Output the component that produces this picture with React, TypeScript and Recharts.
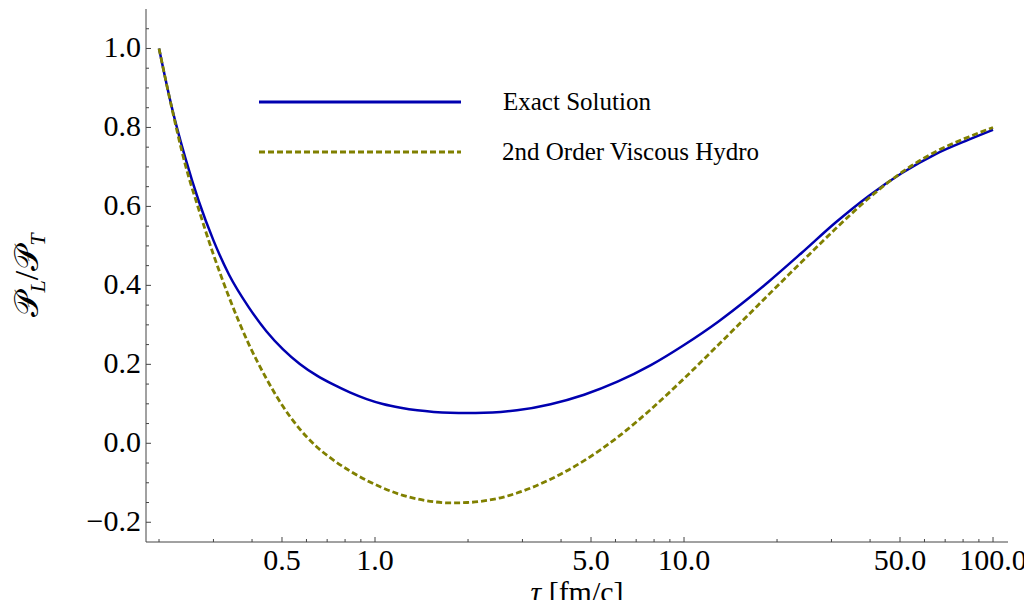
import { LineChart, Line, XAxis, YAxis, Legend } from 'recharts';

const tau = [
  0.2, 0.22, 0.243, 0.269, 0.3, 0.337, 0.39, 0.445, 0.504, 0.571, 0.647, 0.732, 0.829, 0.94, 1.06, 1.21,
  1.37, 1.55, 1.75, 1.99, 2.25, 2.55, 2.88, 3.7, 4.75, 6.09, 7.81, 10, 12.9, 16.1, 18.7, 24, 30.8, 39.5,
  50.6, 65, 83.4, 100,
];

const exactSolution = [
  1.0, 0.851, 0.724, 0.613, 0.514, 0.427, 0.345, 0.284, 0.238, 0.201, 0.172, 0.149, 0.129, 0.112,
  0.0995, 0.09, 0.0835, 0.0795, 0.0775, 0.077, 0.0775, 0.0795, 0.0835, 0.099, 0.123, 0.156, 0.198,
  0.249, 0.308, 0.366, 0.408, 0.482, 0.558, 0.626, 0.684, 0.732, 0.769, 0.794,
];

const viscousHydro = [
  1.0, 0.849, 0.707, 0.592, 0.478, 0.37, 0.252, 0.164, 0.093, 0.036, -0.0085, -0.042, -0.07, -0.094,
  -0.113, -0.13, -0.141, -0.148, -0.151, -0.15, -0.146, -0.138, -0.126, -0.091, -0.044, 0.015, 0.086,
  0.164, 0.249, 0.324, 0.375, 0.459, 0.542, 0.62, 0.686, 0.738, 0.776, 0.8,
];

const seriesNames = ['Exact Solution', '2nd Order Viscous Hydro'];

const xMajorTicks = [0.5, 1, 5, 10, 50, 100];
const xMinorTicks = [0.2, 0.3, 0.4, 0.6, 0.7, 0.8, 0.9, 2, 3, 4, 6, 7, 8, 9, 20, 30, 40, 60, 70, 80, 90];
const yMajorTicks = [-0.2, 0, 0.2, 0.4, 0.6, 0.8, 1.0];
const yMinorTicks = [
  -0.15, -0.1, -0.05, 0.05, 0.1, 0.15, 0.25, 0.3, 0.35, 0.45, 0.5, 0.55, 0.65, 0.7, 0.75, 0.85, 0.9,
  0.95, 1.05,
];

const data = tau.map((t, i) => ({ tau: t, exact: exactSolution[i], hydro: viscousHydro[i] }));

const BLUE = '#0000b0';
const OLIVE = '#808000';
const FRAME = '#444';
const SERIF = { fontFamily: 'Liberation Serif, DejaVu Serif, serif' };
const X_DOMAIN = [0.1815, 111.8];
const Y_DOMAIN = [-0.25, 1.1];

const xTicks = [...xMinorTicks, ...xMajorTicks].sort((a, b) => a - b);
const yTicks = [...yMinorTicks, ...yMajorTicks].sort((a, b) => a - b);

const isMajor = (list: number[], v: number) => list.some((m) => Math.abs(m - v) < 1e-9);

const fmtY = (v: number) => (v < 0 ? '\u2212' + Math.abs(v).toFixed(1) : v.toFixed(1));

function BottomTick({ x, y, payload }: any) {
  const major = isMajor(xMajorTicks, payload.value);
  return (
    <g>
      <line x1={x} x2={x} y1={y} y2={y - (major ? 5 : 3)} stroke={FRAME} />
      {major && (
        <text x={x} y={y + 28} textAnchor="middle" style={SERIF} fontSize={30} fill="#000">
          {payload.value.toFixed(1)}
        </text>
      )}
    </g>
  );
}

function TopTick({ x, y, payload }: any) {
  const major = isMajor(xMajorTicks, payload.value);
  return <line x1={x} x2={x} y1={y} y2={y + (major ? 5 : 3)} stroke={FRAME} />;
}

function LeftTick({ x, y, payload }: any) {
  const major = isMajor(yMajorTicks, payload.value);
  return (
    <g>
      <line x1={x} x2={x + (major ? 5 : 3)} y1={y} y2={y} stroke={FRAME} />
      {major && (
        <text x={x - 5} y={y + 9} textAnchor="end" style={SERIF} fontSize={30} fill="#000">
          {fmtY(payload.value)}
        </text>
      )}
    </g>
  );
}

function RightTick({ x, y, payload }: any) {
  const major = isMajor(yMajorTicks, payload.value);
  return <line x1={x} x2={x - (major ? 5 : 3)} y1={y} y2={y} stroke={FRAME} />;
}

function XTitle({ viewBox }: any) {
  const { x, y, width } = viewBox;
  return (
    <text x={x + width / 2} y={y + 60} textAnchor="middle" style={SERIF} fontSize={30} fill="#000">
      <tspan fontStyle="italic">τ</tspan> [fm/c]
    </text>
  );
}

function YTitle({ viewBox }: any) {
  const { y, height } = viewBox;
  const cx = 38;
  const cy = y + height / 2;
  return (
    <text
      x={cx}
      y={cy}
      transform={`rotate(-90 ${cx} ${cy})`}
      textAnchor="middle"
      style={SERIF}
      fontSize={34}
      fill="#000"
    >
      𝒫
      <tspan dy={7} fontSize={22} fontStyle="italic">L</tspan>
      <tspan dy={-7}>/𝒫</tspan>
      <tspan dy={7} fontSize={22} fontStyle="italic">T</tspan>
    </text>
  );
}

function LegendBox() {
  const rows = [
    { name: seriesNames[0], color: BLUE, dash: undefined, y: 22, tx: 244 },
    { name: seriesNames[1], color: OLIVE, dash: '6 3', y: 72, tx: 243 },
  ];
  return (
    <svg width={540} height={100} style={{ overflow: 'visible' }}>
      {rows.map((r) => (
        <g key={r.name}>
          <line x1={0} x2={202} y1={r.y} y2={r.y} stroke={r.color} strokeWidth={3} strokeDasharray={r.dash} />
          <text x={r.tx} y={r.y + 8} style={SERIF} fontSize={25} fill="#000">
            {r.name}
          </text>
        </g>
      ))}
    </svg>
  );
}

export default function App() {
  return (
    <div style={{ margin: -8, width: 1032, height: 608, background: '#fff' }}>
      <LineChart width={1032} height={608} data={data} margin={{ top: 9, right: 24, bottom: 0, left: 0 }}>
        <XAxis
          dataKey="tau"
          type="number"
          scale="log"
          domain={X_DOMAIN}
          allowDataOverflow
          ticks={xTicks}
          interval={0}
          tickSize={0}
          tickMargin={0}
          tickLine={false}
          tick={<BottomTick />}
          axisLine={{ stroke: FRAME }}
          height={66}
          label={(props: any) => <XTitle {...props} />}
        />
        <XAxis
          xAxisId="top"
          orientation="top"
          dataKey="tau"
          type="number"
          scale="log"
          domain={X_DOMAIN}
          allowDataOverflow
          ticks={xTicks}
          interval={0}
          tickSize={0}
          tickMargin={0}
          tickLine={false}
          tick={<TopTick />}
          axisLine={{ stroke: FRAME }}
          height={0}
        />
        <YAxis
          type="number"
          domain={Y_DOMAIN}
          allowDataOverflow
          ticks={yTicks}
          interval={0}
          tickSize={0}
          tickMargin={0}
          tickLine={false}
          tick={<LeftTick />}
          axisLine={{ stroke: FRAME }}
          width={146}
          label={(props: any) => <YTitle {...props} />}
        />
        <YAxis
          yAxisId="right"
          orientation="right"
          type="number"
          domain={Y_DOMAIN}
          allowDataOverflow
          ticks={yTicks}
          interval={0}
          tickSize={0}
          tickMargin={0}
          tickLine={false}
          tick={<RightTick />}
          axisLine={{ stroke: FRAME }}
          width={0}
        />
        <Legend
          layout="vertical"
          align="center"
          verticalAlign="middle"
          content={() => <LegendBox />}
          wrapperStyle={{ position: 'absolute', left: 259, top: 80, width: 540, height: 100 }}
        />
        <Line
          type="monotone"
          dataKey="exact"
          name={seriesNames[0]}
          stroke={BLUE}
          strokeWidth={2.5}
          dot={false}
          isAnimationActive={false}
        />
        <Line
          type="monotone"
          dataKey="hydro"
          name={seriesNames[1]}
          stroke={OLIVE}
          strokeWidth={2.8}
          strokeDasharray="6 3"
          dot={false}
          isAnimationActive={false}
        />
      </LineChart>
    </div>
  );
}
